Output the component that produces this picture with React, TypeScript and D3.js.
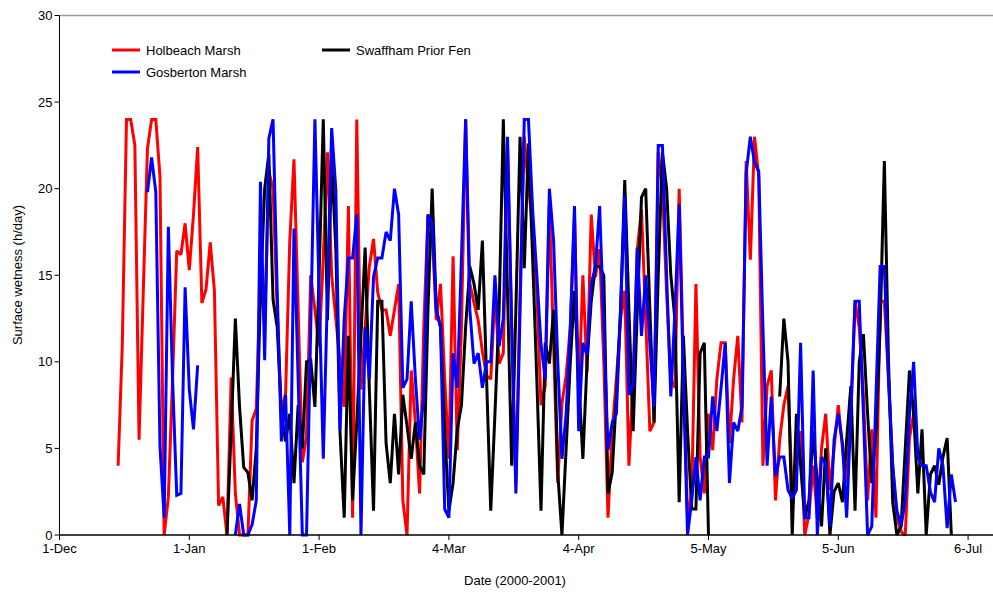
import React from 'react';
import * as d3 from 'd3';

const W = 993;
const H = 592;
const DAY = 86400000;
const startDate = Date.UTC(2000, 11, 1); // 1-Dec-2000

const tickLabels = ['1-Dec', '1-Jan', '1-Feb', '4-Mar', '4-Apr', '5-May', '5-Jun', '6-Jul'];
const tickStepDays = 31;
const yTicks = [0, 5, 10, 15, 20, 25, 30];

// daily values, first value at given day offset from 1-Dec-2000
const holbeachStart = 14;
const holbeach = [
  4.0, 11.0, 24, 24, 22.5, 5.5, 14, 22.3, 24, 24,
  20.7, 0, 2.2, 9, 16.4, 16.2, 18.0, 15.3, 18.5, 22.4,
  13.4, 14.2, 16.9, 14.1, 1.7, 2.2, 0, 9.1, 2.4, 0,
  0, 0, 6.6, 7.3, 15, 12, 21, 20, 13, 7,
  8.2, 17.0, 21.7, 13, 4.2, 5.7, 15.0, 13, 10.9, 16,
  22.1, 15, 12.5, 10, 7.4, 19, 1.0, 24, 8.4, 12,
  15.5, 17.1, 14, 13, 13, 11.5, 13, 14.5, 2, 0,
  9.5, 6.5, 2.4, 12, 18.5, 17.5, 12.4, 14.5, 9, 4.4,
  16.1, 4.9, 12, 24, 14.5, 13.4, 12.4, 10.6, 9.2, 9.0,
  14, 9.9, 10.5, 22.5, 12, 3, 14, 23, 20, 18,
  14, 7.5, 8.6, 19, 11, 3.0, 7.6, 9.2, 12, 18.5,
  8.0, 15, 9.4, 18.5, 14.9, 16.5, 10, 1.0, 6, 9,
  12.5, 14.1, 4.0, 9, 16.5, 18.8, 12.5, 6, 6.5, 22.1,
  20, 14, 9, 8.5, 20, 10, 1, 2.4, 14.5, 4.5,
  2.4, 7.0, 4.9, 9.0, 11.1, 11.1, 5.3, 9.0, 11.5, 6.5,
  21.6, 15.9, 23, 20.7, 4.0, 8.6, 9.5, 2.0, 5.5, 7.5,
  8.6, 2.4, 4, 6, 0, 1.2, 4.0, 1, 5.0, 7.0,
  2.6, 5, 7.5, 5, 3, 7, 13.5, 12, 8, 2,
  6.1, 1.0, 13.5, 13.5, 9, 4, 1, 0.2, 0, 5.6, 7,
];

const swaffhamStart = 40;
const swaffham: (number | null)[] = [
  0, 6, 12.5, 7.4, 3.9, 3.6, 2.0, 5, 14, 20,
  22, 13.6, 12.0, 7, 5.4, 7, 3, 7.5, 5, 10,
  10.1, 7.4, 15, 24, 12.4, 21.7, 16.5, 5.9, 1.0, 11.5,
  2.0, 6.5, 11.5, 16.6, 8.4, 1.4, 13.5, 13.5, 5.3, 3.0,
  7.0, 3.5, 8.1, 6.3, 4.4, 6.5, 4.0, 3.5, 13, 20.0,
  13.0, 12.0, 6, 1.4, 3, 6.1, 7.5, 12, 15.5, 14.5,
  13.0, 17.0, 9, 1.4, 7, 13.0, 24, 14, 4.0, 13,
  23, 15.4, 22.6, 16, 9, 1.4, 11.1, 9.9, 13, 3.6,
  0, 5, 10, 14.1, 9, 4.4, 10, 13.5, 15.5, 15.5,
  15.0, 2.4, 3.6, 8, 13, 20.5, 13, 6.0, 13, 19.5,
  20.0, 13, 6.5, 15, 22.1, 20.0, 15, 12.4, 1.9, 11.5,
  6, 1.5, 1.5, 10.5, 11.1, 0,
  null, null, null, null, null, null, null, null, null, null, null, null, null, null, null, null,
  8.0, 12.5, 10.0, 0, 7.0, 4, 1, 2, 6, 3,
  0.5, 5.0, 0, 2.5, 3.0, 1.9, 5.5, 8.6, 1.4, 10,
  11.6, 7, 3.0, 6, 12, 21.6, 10, 1.9, 0, 0.5,
  5, 9.5, 7, 2.4, 6.1, 0, 3.5, 4.0, 2.9, 4.5, 5.6, 0,
];

const gosbertonStart = 21;
const gosberton: (number | null)[] = [
  19.8, 21.8, 19.8, 5.1, 1.0, 17.8, 9, 2.3, 2.4, 14.3,
  8.4, 6.1, 9.8,
  null, null, null, null, null, null, null, null,
  0, 1.8, 0, 0, 0.6, 2.0, 20.4, 10.1, 22.9, 24,
  14, 5.4, 8.1, 0, 17.7, 9, 0, 0, 12, 24,
  14, 4.4, 14, 23.5, 19.9, 6.1, 12.5, 16.0, 16.0, 18.5,
  0, 12.0, 9.0, 14.9, 16.0, 16.0, 17.5, 17.0, 20.0, 18.5,
  8.5, 9.0, 13.5, 9, 5.5, 8.0, 18.5, 18.0, 13.0, 12.0,
  1.5, 1.0, 10.5, 8.5, 16, 24, 13, 9.9, 10.5, 8.5,
  10, 10, 15, 10.9, 12.5, 23, 12, 2.4, 13, 24,
  24, 18.8, 15, 11, 9, 20, 17, 10, 4.4, 7,
  12, 19, 6, 11.1, 10.4, 14.5, 15.5, 19, 12, 4.9,
  6.5, 7, 13, 19.6, 8.1, 8.6, 16.6, 11.5, 15, 11,
  7.4, 22.5, 22.5, 15, 8, 13, 19.1, 9, 0, 2,
  4.5, 2, 4.5, 4.5, 8, 6, 8.5, 11.1, 3, 6.5,
  6, 7.4, 20.9, 23, 21.5, 21, 12, 4, 8, 3.4,
  4.5, 4.5, 2.6, 2.1, 2.6, 11.1, 1, 1, 9.5, 0,
  4.5, 4.1, 0.5, 5.5, 7, 5.3, 1, 7, 13.5, 13.5,
  7, 0, 0.5, 8, 15.5, 15.5, 9, 4, 1.4, 0.5,
  2, 7, 10, 4.5, 4, 4, 2.5, 1.9, 5, 4, 0.4, 3.5, 1.9,
];

const seriesNames = ['Holbeach Marsh', 'Swaffham Prior Fen', 'Gosberton Marsh'];
const seriesColors = ['#FF0000', '#000000', '#0000FF'];
const seriesStarts = [holbeachStart, swaffhamStart, gosbertonStart];
const seriesValues: (number | null)[][] = [holbeach, swaffham, gosberton];

const FONT = 'Liberation Sans, Arial, Helvetica, sans-serif';

export default function App() {
  const left = 59.5;
  const pxPerDay = 4.187;
  const totalDays = tickStepDays * 8;
  const x = d3
    .scaleUtc()
    .domain([new Date(startDate), new Date(startDate + totalDays * DAY)])
    .range([left, left + totalDays * pxPerDay]);
  const y = d3.scaleLinear().domain([0, 30]).range([535, 15.5]);

  const tickDates = tickLabels.map((_, i) => new Date(startDate + i * tickStepDays * DAY));

  const lines = seriesValues.map((vals, si) => {
    const gen = d3
      .line<number | null>()
      .defined((v) => v != null)
      .x((_, i) => x(new Date(startDate + (seriesStarts[si] + i) * DAY)))
      .y((v) => y(v as number));
    return gen(vals) || '';
  });

  const legend = [
    { s: 0, lx: 112, ly: 50 },
    { s: 1, lx: 322, ly: 50 },
    { s: 2, lx: 112, ly: 72 },
  ];

  return (
    <svg
      width={W}
      height={H}
      style={{ position: 'absolute', left: 0, top: 0, background: '#fff' }}
      fontFamily={FONT}
    >
      <rect x={0} y={0} width={W} height={H} fill="#fff" />
      {/* plot area top border */}
      <line x1={left} x2={W} y1={y(30)} y2={y(30)} stroke="#9a9a9a" strokeWidth={1.5} />
      {/* series */}
      {lines.map((d, i) => (
        <path key={i} d={d} fill="none" stroke={seriesColors[i]} strokeWidth={3} strokeLinejoin="miter" strokeMiterlimit={2} />
      ))}
      {/* y axis */}
      <line x1={left} x2={left} y1={y(30)} y2={y(0)} stroke="#000" strokeWidth={1} />
      {yTicks.map((t) => (
        <g key={t}>
          <line x1={left - 5} x2={left} y1={y(t)} y2={y(t)} stroke="#000" />
          <text x={left - 7} y={y(t)} dy="0.35em" textAnchor="end" fontSize={13}>
            {t}
          </text>
        </g>
      ))}
      {/* x axis */}
      <line x1={left} x2={W} y1={y(0)} y2={y(0)} stroke="#000" strokeWidth={1.5} />
      {tickDates.map((dt, i) => (
        <g key={i}>
          <line x1={x(dt)} x2={x(dt)} y1={y(0)} y2={y(0) + 5} stroke="#000" />
          <text x={x(dt)} y={553} textAnchor="middle" fontSize={13}>
            {tickLabels[i]}
          </text>
        </g>
      ))}
      <text x={515} y={585} textAnchor="middle" fontSize={13}>
        Date (2000-2001)
      </text>
      <text
        transform={`translate(22,${275}) rotate(-90)`}
        textAnchor="middle"
        fontSize={13}
      >
        Surface wetness (h/day)
      </text>
      {/* legend */}
      {legend.map((l) => (
        <g key={l.s}>
          <line x1={l.lx} x2={l.lx + 28} y1={l.ly} y2={l.ly} stroke={seriesColors[l.s]} strokeWidth={3} />
          <text x={l.lx + 34} y={l.ly} dy="0.35em" fontSize={13}>
            {seriesNames[l.s]}
          </text>
        </g>
      ))}
    </svg>
  );
}
